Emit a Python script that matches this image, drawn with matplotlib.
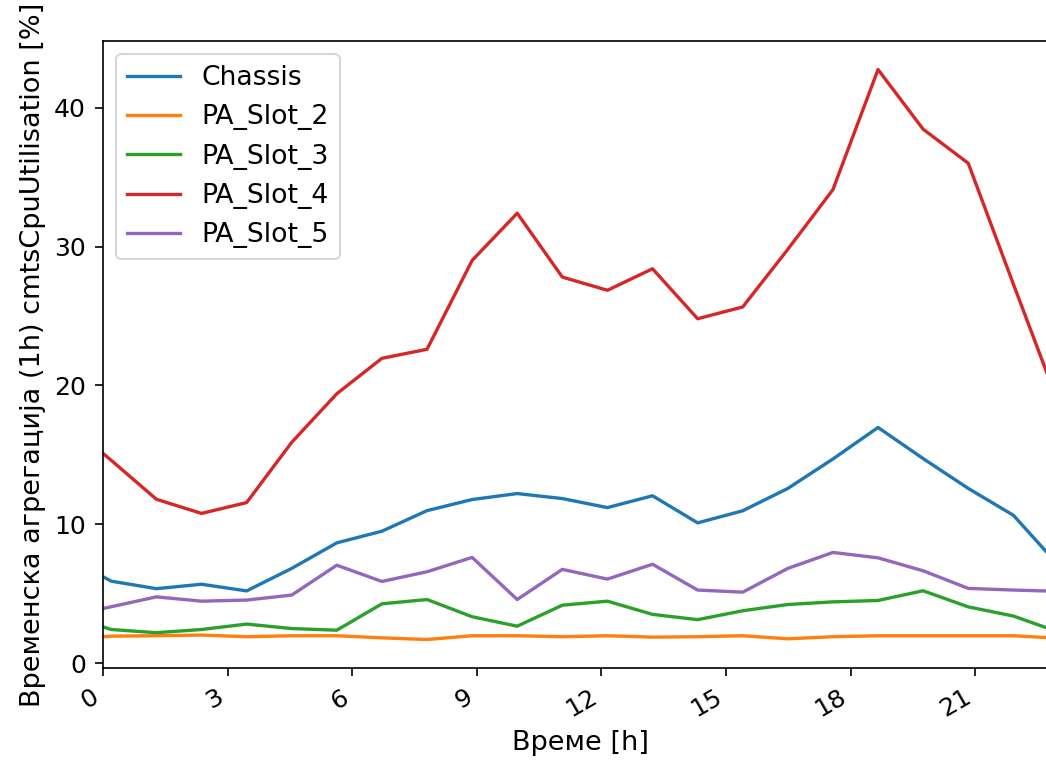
import matplotlib
matplotlib.use("Agg")
import matplotlib.pyplot as plt
import numpy as np

# time in hours
hours = [0.0, 0.2, 1.286, 2.372, 3.458, 4.544, 5.63, 6.716, 7.802, 8.888,
         9.974, 11.06, 12.146, 13.232, 14.318, 15.404, 16.49, 17.576, 18.662,
         19.748, 20.834, 21.92, 23.006]

chassis = [6.22, 5.9, 5.36, 5.68, 5.2, 6.82, 8.66, 9.5, 10.98, 11.78, 12.21,
           11.85, 11.2, 12.05, 10.1, 10.97, 12.58, 14.7, 16.97, 14.73, 12.58,
           10.65, 7.05]
pa_slot_2 = [1.9, 1.94, 1.97, 2.02, 1.9, 1.97, 1.97, 1.82, 1.7, 1.97, 1.97,
             1.9, 1.97, 1.87, 1.9, 1.97, 1.75, 1.9, 1.97, 1.97, 1.97, 1.97, 1.79]
pa_slot_3 = [2.61, 2.42, 2.19, 2.42, 2.81, 2.49, 2.37, 4.27, 4.58, 3.34, 2.66,
             4.17, 4.46, 3.51, 3.13, 3.77, 4.22, 4.41, 4.51, 5.21, 4.05, 3.39, 2.24]
pa_slot_4 = [15.1, 14.6, 11.8, 10.78, 11.56, 15.9, 19.4, 21.95, 22.6, 29.0,
             32.4, 27.8, 26.85, 28.4, 24.8, 25.65, 29.8, 34.1, 42.75, 38.45, 36.0,
             27.3, 18.7]
pa_slot_5 = [3.93, 4.06, 4.77, 4.46, 4.54, 4.9, 7.05, 5.88, 6.58, 7.61, 4.58,
             6.75, 6.05, 7.12, 5.26, 5.11, 6.82, 7.97, 7.58, 6.65, 5.38, 5.26, 5.17]

x_ticks = [0, 3, 6, 9, 12, 15, 18, 21]
y_ticks = [0, 10, 20, 30, 40]

series = {
    "Chassis": chassis,
    "PA_Slot_2": pa_slot_2,
    "PA_Slot_3": pa_slot_3,
    "PA_Slot_4": pa_slot_4,
    "PA_Slot_5": pa_slot_5,
}

W, H, DPI = 1046, 762, 150
fig = plt.figure(figsize=(W / DPI, H / DPI), dpi=DPI)
px_per_hour = 41.53
left_px, top_px, bottom_px = 103, 41, 668
right_px = left_px + (hours[-1] - hours[0]) * px_per_hour
ax = fig.add_axes([left_px / W, (H - bottom_px) / H,
                   (right_px - left_px) / W, (bottom_px - top_px) / H])

for name, vals in series.items():
    ax.plot(hours, vals, label=name, linewidth=1.6)

ax.set_xlim(hours[0], hours[-1])
ax.set_xticks(x_ticks)
ax.set_yticks(y_ticks)
ax.tick_params(labelsize=12, length=4, pad=4.2)
plt.setp(ax.get_xticklabels(), rotation=30, ha="right")
ax.set_xlabel("Време [h]", fontsize=13, labelpad=4)
ax.set_ylabel("Временска агрегација (1h) cmtsCpuUtilisation [%]", fontsize=13)
ax.legend(loc="upper left", fontsize=12.8)

fig.savefig("out.png", dpi=DPI)
